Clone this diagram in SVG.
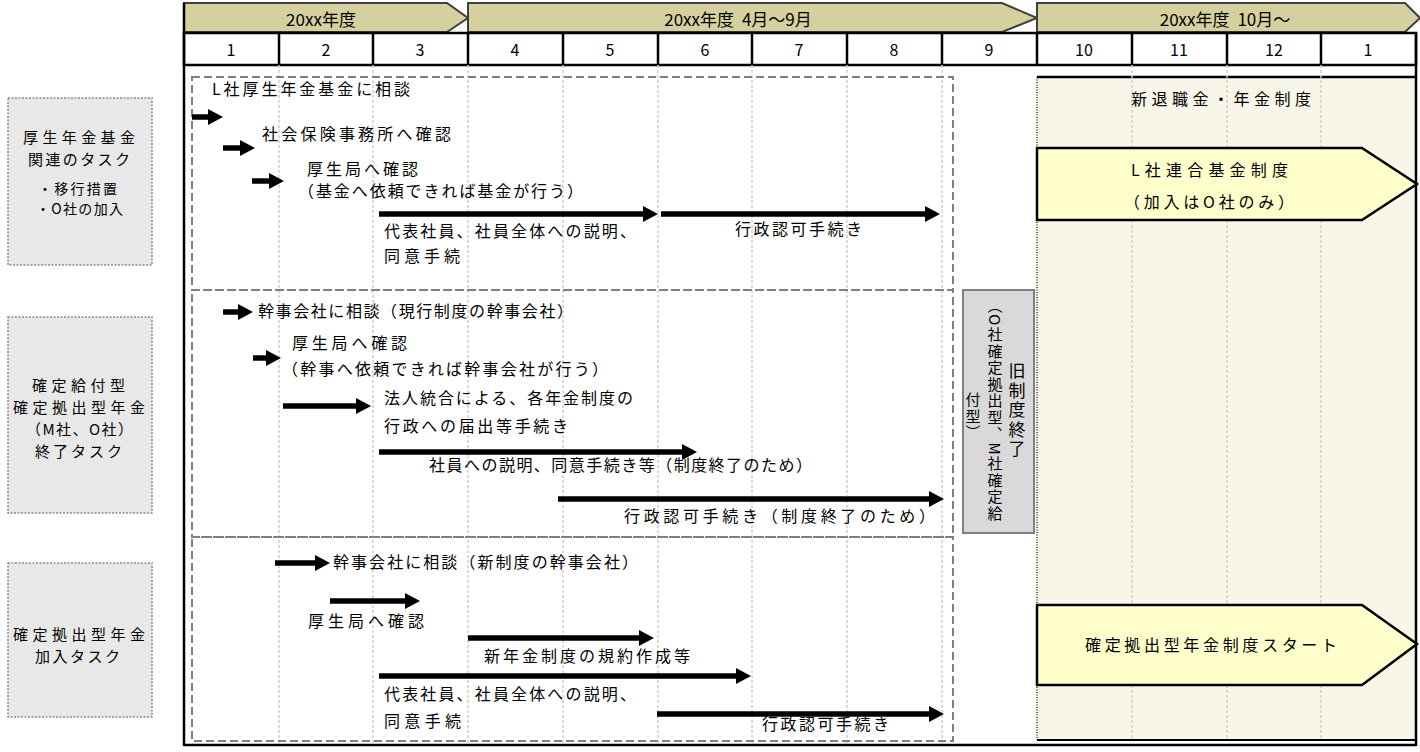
<svg xmlns="http://www.w3.org/2000/svg" width="1420" height="752" viewBox="0 0 1420 752">
<style>
text{font-family:"Noto Sans CJK JP","Liberation Sans",sans-serif;fill:#000;dominant-baseline:central}
.t{font-size:16px}
.h{font-size:16px}
.hd{font-size:17px;text-anchor:middle}
.lb{font-size:15px}
.sm{font-size:14px}
.chev{fill:#d4d19e;stroke:#3f3f3f;stroke-width:2}
.grid{stroke:#cfcfcf;stroke-width:1.5;stroke-dasharray:3 2}
.dbox{fill:none;stroke:#808080;stroke-width:2;stroke-dasharray:8 4}
.lbox{fill:#e8e8e8;stroke:#8c8c8c;stroke-width:1.5;stroke-dasharray:2 1.5}
.frame{stroke:#000;stroke-width:2.5;fill:none}
.arr{stroke:#000;stroke-width:5.5;marker-end:url(#ah)}
.pent{fill:#ffffcc;stroke:#000;stroke-width:2.5}
</style>
<defs>
<marker id="ah" markerUnits="userSpaceOnUse" markerWidth="16" markerHeight="16" refX="1" refY="8" orient="auto">
<path d="M0,0 L15,8 L0,16 Z" fill="#000"/>
</marker>
</defs>
<rect width="1420" height="752" fill="#fff"/>

<g id="header">
<path class="chev" d="M184,3 H447 L468,18 L447,32 H184 Z"/>
<path class="chev" d="M468,3 H1002 L1037,18 L1002,32 H468 Z"/>
<path class="chev" d="M1037,3 H1405 L1420,18 L1405,32 H1037 Z"/>
<text class="hd" x="321" y="18">20xx年度</text>
<text class="hd" x="738" y="18">20xx年度 <tspan dx="4">4月～9月</tspan></text>
<text class="hd" x="1225" y="18">20xx年度 <tspan dx="4">10月～</tspan></text>
</g>

<g id="months">
<rect x="184" y="33" width="1232" height="32" fill="#fff" stroke="#000" stroke-width="2.5"/>
<g stroke="#000" stroke-width="2.5">
<line x1="279" y1="33" x2="279" y2="65"/><line x1="373" y1="33" x2="373" y2="65"/><line x1="468" y1="33" x2="468" y2="65"/><line x1="563" y1="33" x2="563" y2="65"/><line x1="658" y1="33" x2="658" y2="65"/><line x1="752" y1="33" x2="752" y2="65"/><line x1="847" y1="33" x2="847" y2="65"/><line x1="942" y1="33" x2="942" y2="65"/><line x1="1037" y1="33" x2="1037" y2="65"/><line x1="1132" y1="33" x2="1132" y2="65"/><line x1="1227" y1="33" x2="1227" y2="65"/><line x1="1321" y1="33" x2="1321" y2="65"/>
</g>
<g text-anchor="middle">
<text class="h" x="231" y="49">1</text><text class="h" x="326" y="49">2</text><text class="h" x="420" y="49">3</text><text class="h" x="515" y="49">4</text><text class="h" x="610" y="49">5</text><text class="h" x="705" y="49">6</text><text class="h" x="799" y="49">7</text><text class="h" x="894" y="49">8</text><text class="h" x="989" y="49">9</text><text class="h" x="1084" y="49">10</text><text class="h" x="1179" y="49">11</text><text class="h" x="1274" y="49">12</text><text class="h" x="1368" y="49">1</text>
</g>
</g>

<g id="new-system-panel">
<rect x="1037" y="77" width="379" height="663" fill="#f8f6e8"/>
<line x1="1037" y1="77" x2="1037" y2="740" stroke="#333" stroke-width="1.5" stroke-dasharray="1 1.5"/>
<line x1="1037" y1="77" x2="1416" y2="77" stroke="#000" stroke-width="2.5"/>
<line x1="1037" y1="740" x2="1416" y2="740" stroke="#000" stroke-width="2"/>
<text class="t" x="1131" y="98" textLength="180" lengthAdjust="spacing">新退職金・年金制度</text>
</g>

<g id="gridlines">
<line class="grid" x1="279" y1="65" x2="279" y2="745"/><line class="grid" x1="373" y1="65" x2="373" y2="745"/><line class="grid" x1="468" y1="65" x2="468" y2="745"/><line class="grid" x1="563" y1="65" x2="563" y2="745"/><line class="grid" x1="658" y1="65" x2="658" y2="745"/><line class="grid" x1="752" y1="65" x2="752" y2="745"/><line class="grid" x1="847" y1="65" x2="847" y2="745"/><line class="grid" x1="942" y1="65" x2="942" y2="745"/><line class="grid" x1="1132" y1="65" x2="1132" y2="740"/><line class="grid" x1="1227" y1="65" x2="1227" y2="740"/><line class="grid" x1="1321" y1="65" x2="1321" y2="740"/>
</g>

<g id="frame">
<line class="frame" x1="184" y1="3" x2="184" y2="746"/>
<line class="frame" x1="184" y1="745" x2="1416" y2="745"/>
<line class="frame" x1="1416" y1="33" x2="1416" y2="746"/>
</g>

<g id="label-kikin">
<rect class="lbox" x="8" y="98" width="144" height="167"/>
<text class="lb" x="23" y="136" textLength="112" lengthAdjust="spacing">厚生年金基金</text>
<text class="lb" x="28" y="158" textLength="102" lengthAdjust="spacing">関連のタスク</text>
<text class="sm" x="38" y="188" textLength="79" lengthAdjust="spacing">・移行措置</text>
<text class="sm" x="36" y="208" textLength="87" lengthAdjust="spacing">・O社の加入</text>
</g>

<g id="label-end">
<rect class="lbox" x="8" y="317" width="144" height="196"/>
<text class="lb" x="32" y="384" textLength="93" lengthAdjust="spacing">確定給付型</text>
<text class="lb" x="13" y="406" textLength="132" lengthAdjust="spacing">確定拠出型年金</text>
<text class="lb" x="26" y="428" textLength="107" lengthAdjust="spacing">（M社、O社）</text>
<text class="lb" x="35" y="450" textLength="87" lengthAdjust="spacing">終了タスク</text>
</g>

<g id="label-dc">
<rect class="lbox" x="8" y="563" width="144" height="154"/>
<text class="lb" x="13" y="633" textLength="132" lengthAdjust="spacing">確定拠出型年金</text>
<text class="lb" x="35" y="655" textLength="85" lengthAdjust="spacing">加入タスク</text>
</g>

<g id="tasks-kikin">
<rect class="dbox" x="192" y="77" width="761" height="213"/>
<text class="t" x="212" y="88" textLength="198" lengthAdjust="spacing">L社厚生年金基金に相談</text>
<text class="t" x="262" y="133" textLength="189" lengthAdjust="spacing">社会保険事務所へ確認</text>
<text class="t" x="307" y="168" textLength="111" lengthAdjust="spacing">厚生局へ確認</text>
<text class="t" x="298" y="190" textLength="285" lengthAdjust="spacing">（基金へ依頼できれば基金が行う）</text>
<text class="t" x="384" y="230" textLength="252" lengthAdjust="spacing">代表社員、社員全体への説明、</text>
<text class="t" x="384" y="255" textLength="76" lengthAdjust="spacing">同意手続</text>
<text class="t" x="735" y="228" textLength="127" lengthAdjust="spacing">行政認可手続き</text>
</g>

<g id="tasks-end">
<rect class="dbox" x="192" y="290" width="761" height="247"/>
<text class="t" x="258" y="310" textLength="315" lengthAdjust="spacing">幹事会社に相談（現行制度の幹事会社）</text>
<text class="t" x="292" y="342" textLength="115" lengthAdjust="spacing">厚生局へ確認</text>
<text class="t" x="282" y="368" textLength="326" lengthAdjust="spacing">（幹事へ依頼できれば幹事会社が行う）</text>
<text class="t" x="384" y="397" textLength="249" lengthAdjust="spacing">法人統合による、各年金制度の</text>
<text class="t" x="384" y="425" textLength="184" lengthAdjust="spacing">行政への届出等手続き</text>
<text class="t" x="429" y="464" textLength="383" lengthAdjust="spacing">社員への説明、同意手続き等（制度終了のため）</text>
<text class="t" x="624" y="515" textLength="311" lengthAdjust="spacing">行政認可手続き（制度終了のため）</text>
</g>

<g id="tasks-dc">
<rect class="dbox" x="192" y="537" width="761" height="204"/>
<text class="t" x="333" y="561" textLength="305" lengthAdjust="spacing">幹事会社に相談（新制度の幹事会社）</text>
<text class="t" x="308" y="620" textLength="116" lengthAdjust="spacing">厚生局へ確認</text>
<text class="t" x="484" y="655" textLength="206" lengthAdjust="spacing">新年金制度の規約作成等</text>
<text class="t" x="384" y="693" textLength="252" lengthAdjust="spacing">代表社員、社員全体への説明、</text>
<text class="t" x="384" y="720" textLength="77" lengthAdjust="spacing">同意手続</text>
<text class="t" x="762" y="723" textLength="127" lengthAdjust="spacing">行政認可手続き</text>
</g>

<g id="old-system-end">
<rect x="963" y="290" width="71" height="243" fill="#d9d9d9" stroke="#808080" stroke-width="2"/>
<text x="1017" y="411" font-size="17" letter-spacing="2.5" text-anchor="middle" style="writing-mode:vertical-rl">旧制度終了</text>
<text x="995" y="410" font-size="15" letter-spacing="1.5" text-anchor="middle" style="writing-mode:vertical-rl">（O社確定拠出型、M社確定給</text>
<text x="973" y="417" font-size="15" letter-spacing="1.5" text-anchor="middle" style="writing-mode:vertical-rl">付型）</text>
</g>

<g id="l-fund">
<path class="pent" d="M1037,148 H1362 L1417,184 L1362,220 H1037 Z"/>
<text class="t" x="1131" y="169" textLength="157" lengthAdjust="spacing">L社連合基金制度</text>
<text class="t" x="1124" y="201" textLength="170" lengthAdjust="spacing">（加入はO社のみ）</text>
</g>

<g id="dc-start">
<path class="pent" d="M1037,605 H1362 L1417,644 L1362,685 H1037 Z"/>
<text class="t" x="1085" y="644" textLength="252" lengthAdjust="spacing">確定拠出型年金制度スタート</text>
</g>

<g id="connectors">
<line class="arr" x1="192" y1="117" x2="209" y2="117"/>
<line class="arr" x1="223" y1="148" x2="241" y2="148"/>
<line class="arr" x1="252" y1="181" x2="270" y2="181"/>
<line class="arr" x1="379" y1="214" x2="644" y2="214"/>
<line class="arr" x1="661" y1="214" x2="926" y2="214"/>
<line class="arr" x1="223" y1="312" x2="239" y2="312"/>
<line class="arr" x1="253" y1="358" x2="267" y2="358"/>
<line class="arr" x1="283" y1="406" x2="357" y2="406"/>
<line class="arr" x1="379" y1="452" x2="683" y2="452"/>
<line class="arr" x1="558" y1="499" x2="930" y2="499"/>
<line class="arr" x1="275" y1="563" x2="316" y2="563"/>
<line class="arr" x1="330" y1="601" x2="406" y2="601"/>
<line class="arr" x1="468" y1="638" x2="640" y2="638"/>
<line class="arr" x1="379" y1="676" x2="737" y2="676"/>
<line class="arr" x1="657" y1="714" x2="930" y2="714"/>
</g>
</svg>
